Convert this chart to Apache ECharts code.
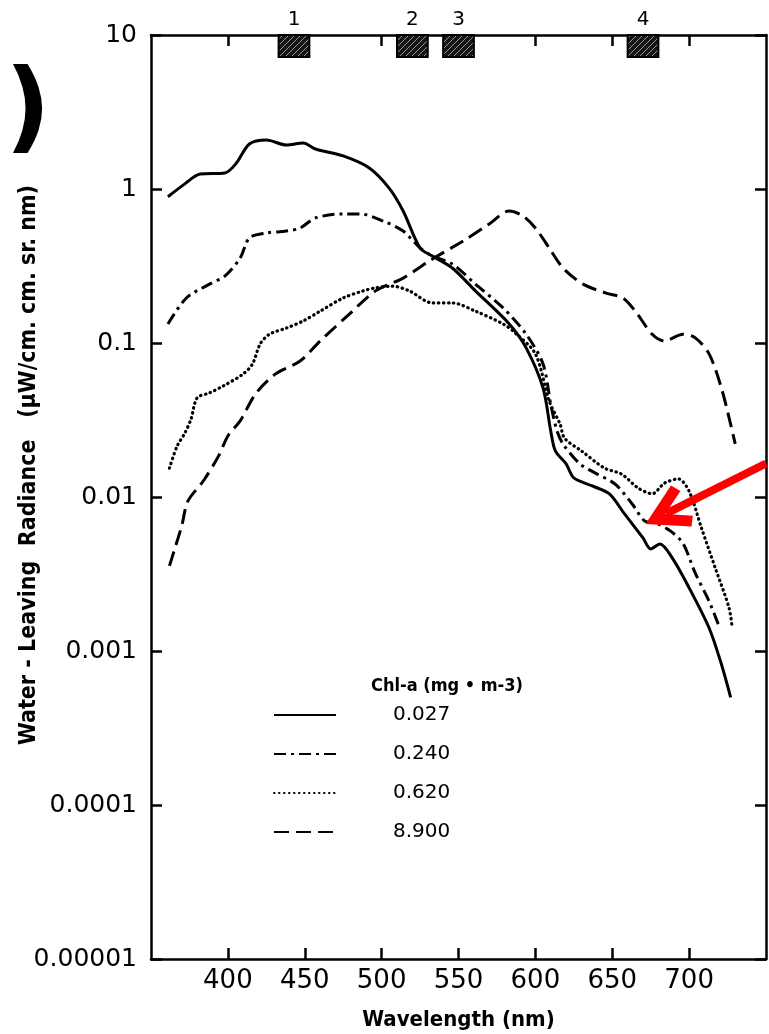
<!DOCTYPE html>
<html>
<head>
<meta charset="utf-8">
<script src="https://cdn.jsdelivr.net/npm/echarts@6/dist/echarts.min.js"></script>
<style>
html,body{margin:0;padding:0;background:#fff;}
#chart{width:769px;height:1034px;}
</style>
</head>
<body>
<div id="chart"></div>
<script>
// ---- data (wavelength nm, water-leaving radiance) ----
const solidNm  = [361,372,382,398,405,414,425,438,449,457,475,492,505,514,525,533,546,561,583,594,605,610,613,620,625,637,648,658,670,675,681,689,700,713,721,727];
const solidVal = [0.89,1.08,1.25,1.27,1.45,1.96,2.08,1.93,1.99,1.82,1.64,1.37,1.01,0.72,0.414,0.367,0.307,0.218,0.133,0.093,0.051,0.0268,0.0199,0.0164,0.0133,0.0118,0.0105,0.00776,0.00542,0.0046,0.00495,0.00402,0.00257,0.00141,0.00082,0.0005];

const dashDotNm  = [361,373,388,398,408,414,425,438,447,457,475,486,501,514,525,533,546,561,579,594,605,610,614,618,629,639,652,663,671,678,688,696,704,713,720];
const dashDotVal = [0.133,0.196,0.241,0.272,0.356,0.481,0.518,0.533,0.558,0.649,0.689,0.689,0.619,0.533,0.414,0.367,0.326,0.241,0.169,0.114,0.073,0.040,0.027,0.0221,0.0164,0.0143,0.0121,0.0090,0.0070,0.0068,0.0060,0.0050,0.0032,0.0021,0.0014];

const dottedNm  = [362,367,372,376,380,388,397,410,416,421,427,438,449,460,475,488,496,507,518,533,546,561,579,587,600,609,616,619,630,645,656,667,676,684,693,700,708,717,726,728];
const dottedVal = [0.0154,0.0214,0.026,0.032,0.044,0.0474,0.0526,0.063,0.073,0.0986,0.114,0.125,0.139,0.161,0.196,0.218,0.228,0.234,0.218,0.182,0.182,0.161,0.133,0.116,0.085,0.042,0.0298,0.0241,0.0199,0.0154,0.0141,0.0114,0.0105,0.0123,0.0131,0.0109,0.0063,0.00346,0.0019,0.00141];

const dashedNm  = [362,366,370,374,384,394,400,408,418,431,447,460,479,496,514,533,553,570,583,592,600,609,618,631,646,657,665,676,684,696,704,713,721,726,730];
const dashedVal = [0.00357,0.0048,0.0065,0.0094,0.0127,0.0185,0.0249,0.0312,0.0467,0.063,0.0764,0.103,0.154,0.218,0.264,0.351,0.459,0.593,0.72,0.668,0.558,0.414,0.307,0.241,0.211,0.196,0.161,0.114,0.103,0.114,0.108,0.085,0.051,0.0326,0.0221];

const seriesNames = ['0.027','0.240','0.620','8.900'];
const xTickValues = [400,450,500,550,600,650,700];
const xTopTicks   = [400,500,600,650,700];
const yTickLabels = ['0.00001','0.0001','0.001','0.01','0.1','1','10'];
const bandNames = ['1','2','3','4'];
const bandStart = [433,510,540,660];
const bandEnd   = [453,530,560,680];
const arrowFrom = [750,0.0165];
const arrowTo   = [685,0.0078];

function pairs(xs, ys){ return xs.map((x,i)=>[x, ys[i]]); }

const FONT = 'DejaVu Sans';
const FONTC = 'DejaVu Sans Condensed';
const black = '#000';

// hatch fill for the band boxes
const hatch = document.createElement('canvas');
hatch.width = 6; hatch.height = 6;
(function(){
  const c = hatch.getContext('2d');
  c.fillStyle = '#151515'; c.fillRect(0,0,6,6);
  c.strokeStyle = 'rgba(165,165,165,0.9)'; c.lineWidth = 1;
  c.beginPath();
  c.moveTo(0,6); c.lineTo(6,0);
  c.moveTo(-3,3); c.lineTo(3,-3);
  c.moveTo(3,9); c.lineTo(9,3);
  c.stroke();
})();

const chart = echarts.init(document.getElementById('chart'), null, {renderer:'canvas'});

function yLabel(v){
  const e = Math.round(Math.log10(v));
  return yTickLabels[e + 5] || '';
}

const lineBase = {type:'line', showSymbol:false, symbol:'none', smooth:0.3, color:black, z:3};

const option = {
  backgroundColor:'#fff',
  animation:false,
  title:{
    text:'Chl-a (mg • m-3)', left:366, top:672,
    textStyle:{fontFamily:FONTC, fontWeight:'bold', fontSize:18, color:black}
  },
  legend:{
    data:seriesNames, orient:'vertical', left:268, top:700,
    itemWidth:62, itemHeight:14, itemGap:19,
    itemStyle:{opacity:0},
    textStyle:{fontFamily:FONT, fontSize:20, color:black, padding:[0,0,0,52]}
  },
  grid:{left:151, right:3, top:35, bottom:75, outerBoundsMode:'none'},
  xAxis:[{
    type:'value', min:350, max:750, position:'bottom',
    axisLine:{show:true, lineStyle:{color:black, width:2.5}},
    axisTick:{show:true, inside:true, length:11, lineStyle:{color:black, width:2.5}, customValues:xTickValues},
    axisLabel:{color:black, fontFamily:FONT, fontSize:26, margin:9, customValues:xTickValues},
    splitLine:{show:false},
    name:'Wavelength (nm)', nameLocation:'middle', nameGap:50,
    nameTextStyle:{fontFamily:FONTC, fontWeight:'bold', fontSize:22, color:black}
  },{
    type:'value', min:350, max:750, position:'top',
    axisLine:{show:true, lineStyle:{color:black, width:2.5}},
    axisTick:{show:true, inside:true, length:11, lineStyle:{color:black, width:2.5}, customValues:xTopTicks},
    axisLabel:{show:false},
    splitLine:{show:false}
  }],
  yAxis:[{
    type:'log', logBase:10, min:0.00001, max:10, position:'left',
    axisLine:{show:true, lineStyle:{color:black, width:2.5}},
    axisTick:{show:true, inside:true, length:11, lineStyle:{color:black, width:2.5}},
    axisLabel:{color:black, fontFamily:FONT, fontSize:25, margin:14, formatter:yLabel},
    splitLine:{show:false},
    name:'Water - Leaving  Radiance   (\u03bcW/cm. cm. sr. nm)', nameLocation:'middle', nameGap:110,
    nameMoveOverlap:false,
    nameTextStyle:{fontFamily:FONTC, fontWeight:'bold', fontSize:23, color:black, padding:[0,0,0,64]}
  },{
    type:'log', logBase:10, min:0.00001, max:10, position:'right',
    axisLine:{show:true, lineStyle:{color:black, width:2.5}},
    axisTick:{show:true, inside:true, length:11, lineStyle:{color:black, width:2.5}},
    axisLabel:{show:false},
    splitLine:{show:false}
  }],
  graphic:[{
    type:'text', left:5, top:64,
    style:{text:')', font:'bold 100px "DejaVu Sans"', fill:black}
  }],
  series:[
    Object.assign({}, lineBase, {name:seriesNames[0], data:pairs(solidNm, solidVal),
      lineStyle:{color:black, width:3, type:'solid'}}),
    Object.assign({}, lineBase, {name:seriesNames[1], data:pairs(dashDotNm, dashDotVal),
      lineStyle:{color:black, width:3, type:[12,5,3,5]}}),
    Object.assign({}, lineBase, {name:seriesNames[2], data:pairs(dottedNm, dottedVal),
      lineStyle:{color:black, width:3.2, type:[0.5,4.5], cap:'round'}}),
    Object.assign({}, lineBase, {name:seriesNames[3], data:pairs(dashedNm, dashedVal),
      lineStyle:{color:black, width:3, type:[15,7]}}),
    {
      type:'line', name:'bands', data:[], silent:true,
      markArea:{
        silent:true,
        itemStyle:{color:{image:hatch, repeat:'repeat'}, borderColor:black, borderWidth:2},
        label:{show:true, position:'top', distance:4, color:black, fontFamily:FONT, fontSize:20},
        data: bandNames.map((n,i)=>[{name:n, xAxis:bandStart[i], yAxis:10},{xAxis:bandEnd[i], yAxis:7.2}])
      },
      markLine:{
        silent:true,
        symbol:['none','path://M50,0 L100,80 L80,92 L50,44 L20,92 L0,80 Z'],
        symbolSize:[46,46],
        lineStyle:{color:'#ff0000', width:8, type:'solid'},
        itemStyle:{color:'#ff0000'},
        label:{show:false},
        data:[[{coord:arrowFrom},{coord:arrowTo}]]
      }
    }
  ]
};
chart.setOption(option);
</script>
</body>
</html>
